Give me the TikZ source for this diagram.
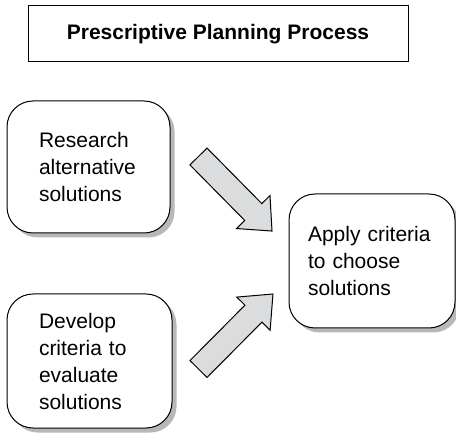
\documentclass[tikz,border=0pt]{standalone}
\usepackage{fontspec}
\setmainfont{Liberation Sans}
\usetikzlibrary{shadows}
\definecolor{arrowgray}{RGB}{218,220,222}
\tikzset{
  stepbox/.style={draw,line width=1pt,rounded corners=26pt,fill=white,
    align=left,inner ysep=0pt,
    font=\fontsize{21}{27}\selectfont,
    drop shadow={shadow xshift=4.5pt,shadow yshift=-4.5pt,fill=black!28,opacity=1}},
  titlebox/.style={draw,line width=1pt,minimum width=380pt,minimum height=56pt,
    font=\fontsize{21}{25}\selectfont\bfseries},
  blockarrow/.style={draw,line width=1pt,fill=arrowgray,line join=miter}
}
\begin{document}
\begin{tikzpicture}[x=1pt,y=-1pt]
\useasboundingbox (0,0) rectangle (456,433);
\node[titlebox] (title) at (218,34) {Prescriptive Planning Process};
\node[stepbox,text width=99pt,inner xsep=32pt,minimum height=132pt] (research) at (88.5,167)
  {Research\\alternative\\solutions};
\node[stepbox,text width=101pt,inner xsep=32pt,minimum height=134pt] (develop) at (89.5,361)
  {Develop\\criteria to\\evaluate\\solutions};
\node[stepbox,text width=128pt,inner xsep=19pt,minimum height=134pt] (apply) at (372,261)
  {Apply criteria\\to choose\\solutions};
\begin{scope}[shift={(198.5,156.5)},rotate=-45.4]
\draw[blockarrow] (0,12)--(78,12)--(78,23.5)--(104.7,0)--(78,-23.5)--(78,-12)--(0,-12)--cycle;
\end{scope}
\begin{scope}[shift={(198.5,369)},rotate=45.2]
\draw[blockarrow] (0,12)--(78,12)--(78,23.5)--(105.7,0)--(78,-23.5)--(78,-12)--(0,-12)--cycle;
\end{scope}
\end{tikzpicture}
\end{document}
